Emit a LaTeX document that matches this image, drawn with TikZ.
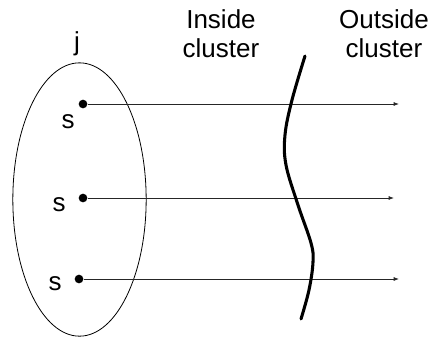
\documentclass[tikz,border=0pt]{standalone}
\usepackage{fontspec}
\setmainfont{Liberation Sans}
\usetikzlibrary{arrows.meta,positioning,shapes.geometric}

\begin{document}
\begin{tikzpicture}[
    x=0.75pt, y=-0.75pt,
    label/.style={
        font=\fontsize{19.5}{22}\selectfont,
        align=center,
        inner sep=0pt
    },
    dot/.style={
        circle,
        fill=black,
        inner sep=0pt,
        minimum size=6.5pt
    },
    arrow/.style={-{Latex[length=4pt,width=3pt]}, line width=0.6pt, draw=black!85}
]
\useasboundingbox (0,0) rectangle (429,337);

\node[ellipse, draw, line width=0.6pt, minimum width=100pt, minimum height=205pt,
      inner sep=0pt] (cluster) at (79.5,199.5) {};

\node[label] (j) at (77,44) {j};
\node[label] (inside) at (221,34) {Inside\\cluster};
\node[label] (outside) at (384,34) {Outside\\cluster};

\node[dot] (s1) at (83,104) {};
\node[dot] (s2) at (83,198) {};
\node[dot] (s3) at (79,279) {};

\node[label, anchor=east] (l1) at (75,122) {s};
\node[label, anchor=east] (l2) at (66,205) {s};
\node[label, anchor=east] (l3) at (62,284) {s};

\coordinate (e1) at (399,104);
\coordinate (e2) at (394,198);
\coordinate (e3) at (399,279);

\draw[arrow] (s1) -- (e1);
\draw[arrow] (s2) -- (e2);
\draw[arrow] (s3) -- (e3);

% boundary of the cluster
\draw[line width=2.3pt, line cap=round] plot[smooth, tension=0.6] coordinates
    {(305,56) (292,100) (285,135) (286,165) (298,205) (311,243) (313,262) (309,290) (301,319)};

\end{tikzpicture}
\end{document}
